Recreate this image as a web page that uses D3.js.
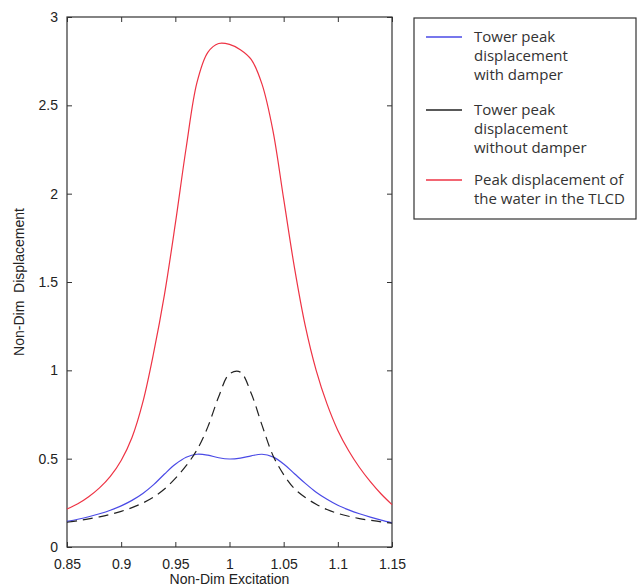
<!DOCTYPE html>
<html>
<head>
<meta charset="utf-8">
<script src="https://cdn.jsdelivr.net/npm/d3@7"></script>
<style>
body{margin:0;background:#fff;}
svg text{font-family:"Liberation Sans",Arial,sans-serif;}
.legend text{font-family:"Open Sans","Noto Sans",sans-serif;font-size:15px;fill:#333;}
</style>
</head>
<body>
<svg width="642" height="588"></svg>
<script>
// x values (non-dim excitation)
const xVals=[0.85,0.86,0.87,0.88,0.89,0.90,0.91,0.92,0.93,0.94,0.95,0.96,0.97,0.98,0.99,1.00,1.01,1.02,1.03,1.04,1.05,1.06,1.07,1.08,1.09,1.10,1.11,1.12,1.13,1.14,1.15]
const withDamper=[0.145,0.157,0.171,0.188,0.208,0.233,0.264,0.303,0.353,0.413,0.468,0.508,0.525,0.52,0.505,0.498,0.503,0.516,0.525,0.51,0.47,0.415,0.36,0.31,0.27,0.236,0.21,0.188,0.169,0.152,0.137]
const withoutDamper=[0.14,0.149,0.159,0.171,0.185,0.202,0.223,0.249,0.283,0.328,0.388,0.46,0.55,0.68,0.85,0.98,0.99,0.87,0.69,0.52,0.41,0.33,0.28,0.242,0.212,0.19,0.174,0.161,0.151,0.142,0.135]
const water=[0.215,0.245,0.285,0.335,0.40,0.49,0.62,0.82,1.10,1.43,1.83,2.26,2.63,2.80,2.85,2.845,2.815,2.76,2.62,2.36,1.97,1.58,1.25,1.00,0.81,0.66,0.545,0.45,0.37,0.30,0.24]

const xTicks=[0.85,0.9,0.95,1,1.05,1.1,1.15]
const yTicks=[0,0.5,1,1.5,2,2.5,3]

const series=[
  {name:["Tower peak","displacement","with damper"],values:withDamper,color:"#4a4ae6",dash:null},
  {name:["Tower peak","displacement","without damper"],values:withoutDamper,color:"#222",dash:"10,6"},
  {name:["Peak displacement of","the water in the TLCD"],values:water,color:"#ee3344",dash:null}
]

const svg=d3.select("svg")
const pl=67,pr=392,pt=17,pb=547

const x=d3.scaleLinear().domain([0.85,1.15]).range([pl,pr])
const y=d3.scaleLinear().domain([0,3]).range([pb,pt])

const axisColor="#333"

// bottom / left with labels, top / right just ticks
const gx=svg.append("g").attr("transform",`translate(0,${pb})`)
  .call(d3.axisBottom(x).tickValues(xTicks).tickSizeInner(-5).tickSizeOuter(0).tickPadding(12).tickFormat(d=>d3.format("")(d)))
const gy=svg.append("g").attr("transform",`translate(${pl},0)`)
  .call(d3.axisLeft(y).tickValues(yTicks).tickSizeInner(-5).tickSizeOuter(0).tickPadding(9).tickFormat(d=>d3.format("")(d)))
const gt=svg.append("g").attr("transform",`translate(0,${pt})`)
  .call(d3.axisTop(x).tickValues(xTicks).tickSizeInner(-5).tickSizeOuter(0).tickFormat(""))
const gr=svg.append("g").attr("transform",`translate(${pr},0)`)
  .call(d3.axisRight(y).tickValues(yTicks).tickSizeInner(-5).tickSizeOuter(0).tickFormat(""))

;[gx,gy,gt,gr].forEach(g=>{
  g.select(".domain").remove()
  g.selectAll(".tick line").attr("stroke",axisColor)
  g.selectAll(".tick text").attr("fill","#222").style("font-size","14px")
})

svg.append("rect").attr("x",pl).attr("y",pt).attr("width",pr-pl).attr("height",pb-pt)
  .attr("fill","none").attr("stroke",axisColor).attr("stroke-width",1.2)

const line=d3.line().x((d,i)=>x(xVals[i])).y(d=>y(d)).curve(d3.curveCatmullRom.alpha(0.5))

series.forEach(s=>{
  svg.append("path").datum(s.values).attr("d",line)
    .attr("fill","none").attr("stroke",s.color).attr("stroke-width",1.2)
    .attr("stroke-dasharray",s.dash)
})

svg.append("text").attr("x",(pl+pr)/2).attr("y",584).attr("text-anchor","middle")
  .style("font-size","14px").attr("fill","#222").text("Non-Dim Excitation")
svg.append("text").attr("transform",`translate(24,${(pt+pb)/2}) rotate(-90)`).attr("text-anchor","middle")
  .style("font-size","14px").attr("fill","#222").attr("xml:space","preserve").text("Non-Dim  Displacement")

// legend
const legend=svg.append("g").attr("class","legend")
legend.append("rect").attr("x",414).attr("y",18).attr("width",222).attr("height",201)
  .attr("fill","#fff").attr("stroke","#333").attr("stroke-width",1.2)
const legY=[37,110,180]
series.forEach((s,i)=>{
  legend.append("line").attr("x1",426).attr("x2",462).attr("y1",legY[i]).attr("y2",legY[i])
    .attr("stroke",s.color).attr("stroke-width",1.5)
  s.name.forEach((t,j)=>{
    legend.append("text").attr("x",474).attr("y",legY[i]+j*19).attr("dy","0.35em").text(t)
  })
})
</script>
</body>
</html>
